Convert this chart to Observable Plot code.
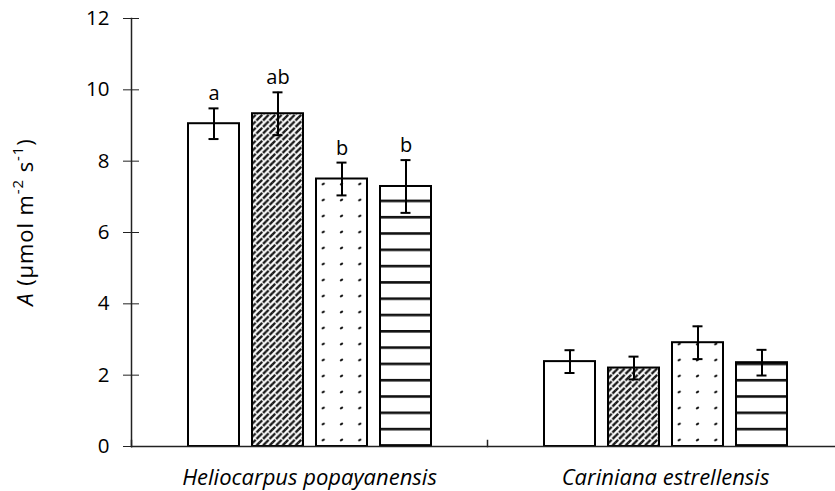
<!DOCTYPE html>
<html>
<head>
<meta charset="utf-8">
<script src="https://cdn.jsdelivr.net/npm/d3@7"></script>
<script src="https://cdn.jsdelivr.net/npm/@observablehq/plot@0.6"></script>
<style>
  html, body { margin: 0; padding: 0; background: #fff; overflow: hidden; }
</style>
</head>
<body>
<div id="chart"></div>
<script>
// Net photosynthesis (A) of two tree species under four treatments
const species = ["Heliocarpus popayanensis", "Cariniana estrellensis"];
const treatments = ["t1", "t2", "t3", "t4"];
const heliocarpusMean = [9.05, 9.33, 7.50, 7.29];
const heliocarpusSE = [0.43, 0.60, 0.46, 0.74];
const heliocarpusLetters = ["a", "ab", "b", "b"];
const carinianaMean = [2.38, 2.20, 2.91, 2.35];
const carinianaSE = [0.32, 0.32, 0.46, 0.36];
const yTicks = [0, 2, 4, 6, 8, 10, 12];

// fill for each treatment (patterns defined below)
const fills = {t1: "#ffffff", t2: "url(#hatch)", t3: "url(#dots)", t4: "url(#hlines)"};

const rows = [
  ...treatments.map((t, i) => ({species: species[0], treatment: t, mean: heliocarpusMean[i], se: heliocarpusSE[i], letter: heliocarpusLetters[i]})),
  ...treatments.map((t, i) => ({species: species[1], treatment: t, mean: carinianaMean[i], se: carinianaSE[i], letter: ""}))
];

const font = "'Open Sans', 'DejaVu Sans', sans-serif";

const chart = Plot.plot({
  width: 835,
  height: 491,
  marginTop: 18,
  marginBottom: 45,
  marginLeft: 131,
  marginRight: -8,
  style: {fontFamily: font, fontSize: "20px", color: "#000", background: "#fff", overflow: "visible"},
  fx: {domain: species, paddingInner: 0, paddingOuter: 0, label: null},
  x: {domain: treatments, paddingInner: 0.207, paddingOuter: 0.862, axis: null},
  y: {domain: [0, 12], axis: null},
  color: {type: "identity"},
  marks: [
    Plot.barY(rows, {fx: "species", x: "treatment", y: "mean", fill: d => fills[d.treatment], stroke: "#000", strokeWidth: 2}),
    Plot.ruleX(rows, {fx: "species", x: "treatment", y1: d => d.mean - d.se, y2: d => d.mean + d.se, stroke: "#000", strokeWidth: 2}),
    Plot.tickY(rows, {fx: "species", x: "treatment", y: d => d.mean - d.se, insetLeft: 20.5, insetRight: 20.5, stroke: "#000", strokeWidth: 2}),
    Plot.tickY(rows, {fx: "species", x: "treatment", y: d => d.mean + d.se, insetLeft: 20.5, insetRight: 20.5, stroke: "#000", strokeWidth: 2}),
    Plot.text(rows.filter(d => d.letter), {fx: "species", x: "treatment", y: d => d.mean + d.se, text: "letter", dy: -8, lineAnchor: "bottom", fontSize: 20, fill: "#000"}),
    // axes
    Plot.ruleY([0], {stroke: "#222", strokeWidth: 1.5}),
    Plot.frame({anchor: "left", facetAnchor: "left", stroke: "#222", strokeWidth: 1.5}),
    Plot.frame({anchor: "left", insetTop: 422, stroke: "#222", strokeWidth: 1.5}),
    Plot.axisY({ticks: yTicks, tickSize: 16, dx: 8, tickPadding: 14, tickFormat: d => d, stroke: "#222", fontSize: 20.5, label: null}),
    Plot.axisFx({anchor: "bottom", tickSize: 0, tickPadding: 23, fontStyle: "italic", fontSize: 22, label: null})
  ]
});

document.getElementById("chart").appendChild(chart);

// patterns, aligned to the bar positions inside each facet
const svg = d3.select(chart);
const xs = chart.scale("x");
const bw = xs.bandwidth;
const dotsX = xs.apply("t3") + bw / 2;
const defs = svg.insert("defs", ":first-child");

const hatch = defs.append("pattern").attr("id", "hatch").attr("patternUnits", "userSpaceOnUse")
  .attr("width", 6.5).attr("height", 6.5);
hatch.append("rect").attr("width", 6.5).attr("height", 6.5).attr("fill", "#fff");
hatch.append("path").attr("d", "M-1,7.5 L7.5,-1 M-2,2 L2,-2 M4.5,8.5 L8.5,4.5")
  .attr("stroke", "#181818").attr("stroke-width", 2.4).attr("stroke-dasharray", "4.5,1.2");

const dotW = 18.3, dotH = 16;
const dots = defs.append("pattern").attr("id", "dots").attr("patternUnits", "userSpaceOnUse")
  .attr("x", dotsX - dotW / 2).attr("y", 0).attr("width", dotW).attr("height", dotH);
dots.append("rect").attr("width", dotW).attr("height", dotH).attr("fill", "#fff");
dots.append("ellipse").attr("cx", dotW / 2).attr("cy", dotH / 2).attr("rx", 1.8).attr("ry", 1.1)
  .attr("transform", `rotate(-30 ${dotW / 2} ${dotH / 2})`)
  .attr("fill", "#1a1a1a");

const lineH = 16.3;
const hl = defs.append("pattern").attr("id", "hlines").attr("patternUnits", "userSpaceOnUse")
  .attr("x", 0).attr("y", 4).attr("width", 20).attr("height", lineH);
hl.append("rect").attr("width", 20).attr("height", lineH).attr("fill", "#fff");
hl.append("rect").attr("y", 0).attr("width", 20).attr("height", 2.6).attr("fill", "#111");

// y-axis title with superscripts
const yTitle = svg.append("text")
  .attr("transform", "translate(33,222) rotate(-90)")
  .attr("text-anchor", "middle")
  .attr("font-family", font)
  .attr("font-size", 22)
  .attr("letter-spacing", 0.9)
  .attr("fill", "#000");
yTitle.append("tspan").attr("font-style", "italic").text("A");
yTitle.append("tspan").text(" (µmol m");
yTitle.append("tspan").attr("font-size", 15).attr("baseline-shift", "super").text("-2");
yTitle.append("tspan").text(" s");
yTitle.append("tspan").attr("font-size", 15).attr("baseline-shift", "super").text("-1");
yTitle.append("tspan").text(")");
</script>
</body>
</html>
